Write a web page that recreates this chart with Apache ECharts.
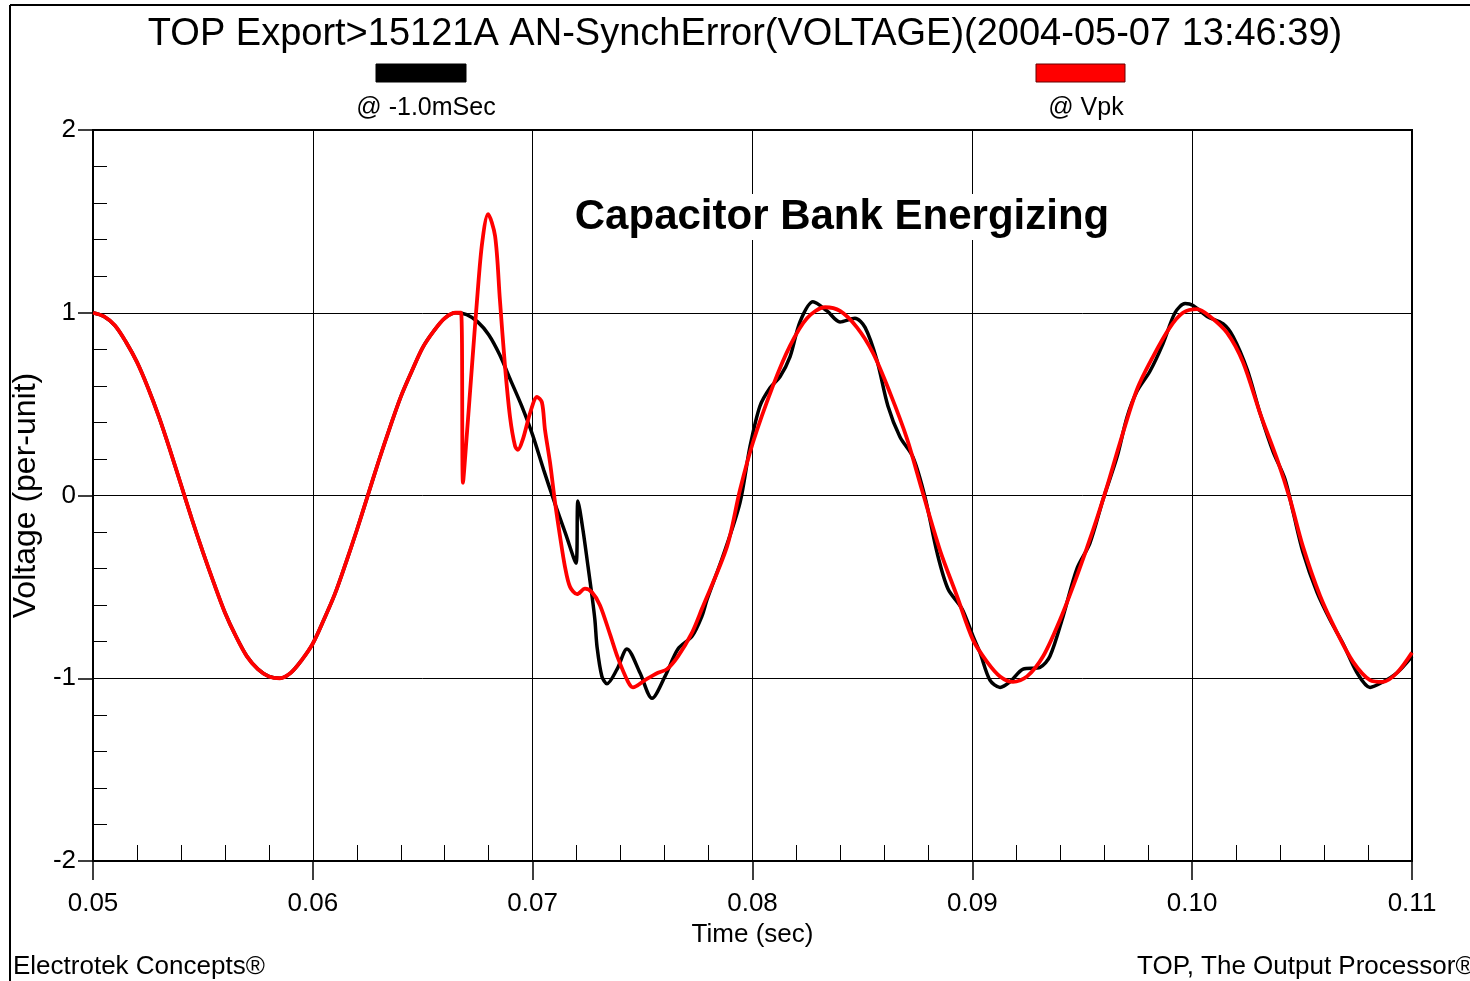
<!DOCTYPE html>
<html>
<head>
<meta charset="utf-8">
<script src="https://cdn.jsdelivr.net/npm/echarts@6/dist/echarts.min.js"></script>
<style>
html,body{margin:0;padding:0;background:#fff;}
#chart{width:1470px;height:981px;}
</style>
</head>
<body>
<div id="chart"></div>
<script>
// ---- Data ----
const titleText = 'TOP Export>15121A AN-SynchError(VOLTAGE)(2004-05-07 13:46:39)';
const seriesNames = ['@ -1.0mSec', '@ Vpk'];
const xTickLabels = ['0.05', '0.06', '0.07', '0.08', '0.09', '0.10', '0.11'];
const yTickLabels = ['-2', '-1', '0', '1', '2'];

const blackTime = [
  0.0500, 0.0505, 0.0510, 0.0515, 0.0520, 0.0525, 0.0530, 0.0535, 0.0540, 0.0545,
  0.0550, 0.0555, 0.0560, 0.0565, 0.0570, 0.0575, 0.0580, 0.0585, 0.0590, 0.0595,
  0.0600, 0.0605, 0.0610, 0.0615, 0.0620, 0.0625, 0.0630, 0.0635, 0.0640, 0.0645,
  0.0650, 0.0655, 0.0660, 0.0665, 0.0670, 0.0675, 0.0680, 0.0685, 0.0690, 0.0695,
  0.0700, 0.0705, 0.0710, 0.0715, 0.07197, 0.07206, 0.07229, 0.07252, 0.07270, 0.07283,
  0.07293, 0.07315, 0.07338, 0.07384, 0.07429, 0.07488, 0.07543, 0.07602, 0.07661, 0.07725,
  0.07770, 0.07793, 0.07866, 0.07943, 0.07989, 0.08034, 0.08080, 0.08125, 0.08171, 0.08216,
  0.08275, 0.08339, 0.08398, 0.08466, 0.08512, 0.08566, 0.08616, 0.08671, 0.08730, 0.08785,
  0.08839, 0.08889, 0.08953, 0.09003, 0.09035, 0.09080, 0.09126, 0.09171, 0.09231, 0.09308,
  0.09353, 0.09413, 0.09476, 0.09535, 0.09595, 0.09658, 0.09704, 0.09749, 0.09808, 0.09867,
  0.09922, 0.09968, 0.10004, 0.10068, 0.10140, 0.10186, 0.10250, 0.10309, 0.10368, 0.10422,
  0.10459, 0.10504, 0.10568, 0.10627, 0.10686, 0.10750, 0.10809, 0.10868, 0.10932, 0.11000
];
const blackVolt = [
  1.00, 0.98, 0.93, 0.84, 0.73, 0.59, 0.43, 0.25, 0.06, -0.13,
  -0.31, -0.48, -0.64, -0.77, -0.88, -0.95, -0.99, -1.00, -0.97, -0.90,
  -0.81, -0.68, -0.54, -0.37, -0.19, 0.00, 0.19, 0.37, 0.54, 0.68,
  0.81, 0.90, 0.97, 1.00, 0.99, 0.95, 0.88, 0.77, 0.63, 0.49,
  0.33, 0.14, -0.04, -0.21, -0.37, -0.03, -0.19, -0.39, -0.55, -0.68,
  -0.83, -0.99, -1.03, -0.95, -0.84, -0.97, -1.11, -0.99, -0.84, -0.77,
  -0.66, -0.57, -0.33, -0.04, 0.27, 0.49, 0.59, 0.65, 0.76, 0.95,
  1.06, 1.01, 0.95, 0.97, 0.92, 0.74, 0.49, 0.32, 0.21, -0.01,
  -0.31, -0.51, -0.62, -0.77, -0.86, -1.01, -1.05, -1.02, -0.95, -0.94,
  -0.88, -0.66, -0.40, -0.26, -0.02, 0.21, 0.43, 0.57, 0.68, 0.83,
  1.00, 1.05, 1.04, 0.98, 0.94, 0.87, 0.69, 0.45, 0.24, 0.09,
  -0.09, -0.31, -0.53, -0.68, -0.81, -0.97, -1.05, -1.02, -0.97, -0.88
];

const redTime = [
  0.0500, 0.0505, 0.0510, 0.0515, 0.0520, 0.0525, 0.0530, 0.0535, 0.0540, 0.0545,
  0.0550, 0.0555, 0.0560, 0.0565, 0.0570, 0.0575, 0.0580, 0.0585, 0.0590, 0.0595,
  0.0600, 0.0605, 0.0610, 0.0615, 0.0620, 0.0625, 0.0630, 0.0635, 0.0640, 0.0645,
  0.0650, 0.0655, 0.0660, 0.0665, 0.06674, 0.06683, 0.06701, 0.06724, 0.06747, 0.06770,
  0.06797, 0.06829, 0.06851, 0.06874, 0.06897, 0.06920, 0.06933, 0.06956, 0.06988, 0.07020,
  0.07042, 0.07056, 0.07079, 0.07102, 0.07124, 0.07147, 0.07170, 0.07202, 0.07238, 0.07270,
  0.07306, 0.07352, 0.07388, 0.07434, 0.07456, 0.07511, 0.07570, 0.07611, 0.07661, 0.07725,
  0.07770, 0.07884, 0.07943, 0.08002, 0.08093, 0.08171, 0.08248, 0.08330, 0.08398, 0.08475,
  0.08548, 0.08626, 0.08703, 0.08771, 0.08853, 0.08930, 0.09003, 0.09067, 0.09126, 0.09185,
  0.09249, 0.09322, 0.09399, 0.09476, 0.09549, 0.09613, 0.09672, 0.09749, 0.09822, 0.09899,
  0.09958, 0.10022, 0.10081, 0.10159, 0.10231, 0.10309, 0.10386, 0.10445, 0.10504, 0.10582,
  0.10659, 0.10732, 0.10809, 0.10868, 0.10932, 0.11000
];
const redVolt = [
  1.00, 0.98, 0.93, 0.84, 0.73, 0.59, 0.43, 0.25, 0.06, -0.13,
  -0.31, -0.48, -0.64, -0.77, -0.88, -0.95, -0.99, -1.00, -0.97, -0.90,
  -0.81, -0.68, -0.54, -0.37, -0.19, 0.00, 0.19, 0.37, 0.54, 0.68,
  0.81, 0.90, 0.97, 1.00, 1.00, 0.07, 0.34, 0.71, 1.07, 1.38,
  1.54, 1.42, 1.07, 0.71, 0.43, 0.27, 0.25, 0.31, 0.45, 0.54,
  0.51, 0.36, 0.18, -0.04, -0.22, -0.39, -0.50, -0.54, -0.51, -0.53,
  -0.60, -0.76, -0.89, -1.02, -1.05, -1.01, -0.97, -0.95, -0.88, -0.75,
  -0.62, -0.28, 0.03, 0.29, 0.60, 0.82, 0.97, 1.03, 1.01, 0.92,
  0.78, 0.56, 0.31, 0.03, -0.30, -0.55, -0.79, -0.91, -0.99, -1.02,
  -0.99, -0.88, -0.68, -0.44, -0.19, 0.05, 0.29, 0.58, 0.76, 0.92,
  1.00, 1.02, 0.98, 0.89, 0.73, 0.45, 0.20, -0.02, -0.28, -0.55,
  -0.75, -0.91, -1.01, -1.02, -0.97, -0.86
];

const annotationText = 'Capacitor Bank Energizing';
const footerLeft = 'Electrotek Concepts\u00AE';
const footerRight = 'TOP, The Output Processor\u00AE';

// ---- Build chart ----
const FONT = '"Liberation Sans", Arial, Helvetica, sans-serif';
const blackData = blackTime.map((t, i) => [t, blackVolt[i]]);
const redData = redTime.map((t, i) => [t, redVolt[i]]);

const chart = echarts.init(document.getElementById('chart'), null, {renderer: 'canvas'});

const option = {
  animation: false,
  backgroundColor: '#ffffff',
  textStyle: {fontFamily: FONT, color: '#000'},
  grid: {
    left: 93, right: 58, top: 130, bottom: 120,
    show: true, borderColor: '#000', borderWidth: 2, backgroundColor: 'transparent'
  },
  xAxis: [
    {
      type: 'value', min: 0.05, max: 0.11, interval: 0.01,
      position: 'bottom',
      axisLine: {show: true, onZero: false, lineStyle: {color: '#000', width: 2}},
      axisTick: {show: true, inside: false, length: 19, lineStyle: {color: '#000', width: 1.5}},
      axisLabel: {
        show: true, margin: 30, fontSize: 26, color: '#000', fontFamily: FONT,
        formatter: v => xTickLabels[Math.round((v - 0.05) / 0.01)] || ''
      },
      splitLine: {show: true, lineStyle: {color: '#000', width: 1}},
      name: 'Time (sec)', nameLocation: 'middle', nameGap: 59,
      nameTextStyle: {fontSize: 26, color: '#000', fontFamily: FONT}
    },
    {
      type: 'value', min: 0.05, max: 0.11, interval: 0.002,
      position: 'bottom',
      axisLine: {show: false, onZero: false},
      axisTick: {show: true, inside: true, length: 16, lineStyle: {color: '#000', width: 1}},
      axisLabel: {show: false},
      splitLine: {show: false}
    }
  ],
  yAxis: [
    {
      type: 'value', min: -2, max: 2, interval: 1,
      position: 'left',
      axisLine: {show: true, onZero: false, lineStyle: {color: '#000', width: 2}},
      axisTick: {show: true, inside: false, length: 15, lineStyle: {color: '#000', width: 1.5}},
      axisLabel: {
        show: true, margin: 17, fontSize: 26, color: '#000', fontFamily: FONT,
        formatter: v => yTickLabels[Math.round(v + 2)] || ''
      },
      splitLine: {show: true, lineStyle: {color: '#000', width: 1}},
      name: 'Voltage (per-unit)', nameLocation: 'middle', nameGap: 50, nameRotate: 90,
      nameTextStyle: {fontSize: 32, color: '#000', fontFamily: FONT}
    },
    {
      type: 'value', min: -2, max: 2, interval: 0.2,
      position: 'left',
      axisLine: {show: false, onZero: false},
      axisTick: {show: true, inside: true, length: 14, lineStyle: {color: '#000', width: 1}},
      axisLabel: {show: false},
      splitLine: {show: false}
    }
  ],
  series: [
    {
      name: seriesNames[0], type: 'line', xAxisIndex: 0, yAxisIndex: 0,
      data: blackData, showSymbol: false, smooth: 0.3,
      lineStyle: {color: '#000000', width: 3.5}, z: 3
    },
    {
      name: seriesNames[1], type: 'line', xAxisIndex: 0, yAxisIndex: 0,
      data: redData, showSymbol: false, smooth: 0.3,
      lineStyle: {color: '#ff0000', width: 3.8}, z: 4
    }
  ],
  graphic: [
    {type: 'line', shape: {x1: 10, y1: 5, x2: 1470, y2: 5}, style: {stroke: '#000', lineWidth: 2}, z: 10},
    {type: 'line', shape: {x1: 10, y1: 5, x2: 10, y2: 981}, style: {stroke: '#000', lineWidth: 2}, z: 10},
    {type: 'text', x: 745, y: 35, style: {text: titleText, font: '38px ' + FONT, fill: '#000', align: 'center', verticalAlign: 'middle'}, z: 10},
    {type: 'rect', shape: {x: 376, y: 64, width: 90, height: 18}, style: {fill: '#000', stroke: '#000', lineWidth: 1}, z: 10},
    {type: 'text', x: 426, y: 108, style: {text: seriesNames[0], font: '25px ' + FONT, fill: '#000', align: 'center', verticalAlign: 'middle'}, z: 10},
    {type: 'rect', shape: {x: 1036, y: 64, width: 89, height: 18}, style: {fill: '#ff0000', stroke: '#600', lineWidth: 1}, z: 10},
    {type: 'text', x: 1086, y: 108, style: {text: seriesNames[1], font: '25px ' + FONT, fill: '#000', align: 'center', verticalAlign: 'middle'}, z: 10},
    {type: 'text', x: 842, y: 217, style: {text: annotationText, font: 'bold 42px ' + FONT, fill: '#000', align: 'center', verticalAlign: 'middle', backgroundColor: '#fff', padding: [2, 4]}, z: 10},
    {type: 'text', x: 13, y: 967, style: {text: footerLeft, font: '26px ' + FONT, fill: '#000', align: 'left', verticalAlign: 'middle'}, z: 10},
    {type: 'text', x: 1137, y: 967, style: {text: footerRight, font: '26px ' + FONT, fill: '#000', align: 'left', verticalAlign: 'middle'}, z: 10}
  ]
};
chart.setOption(option);
</script>
</body>
</html>
